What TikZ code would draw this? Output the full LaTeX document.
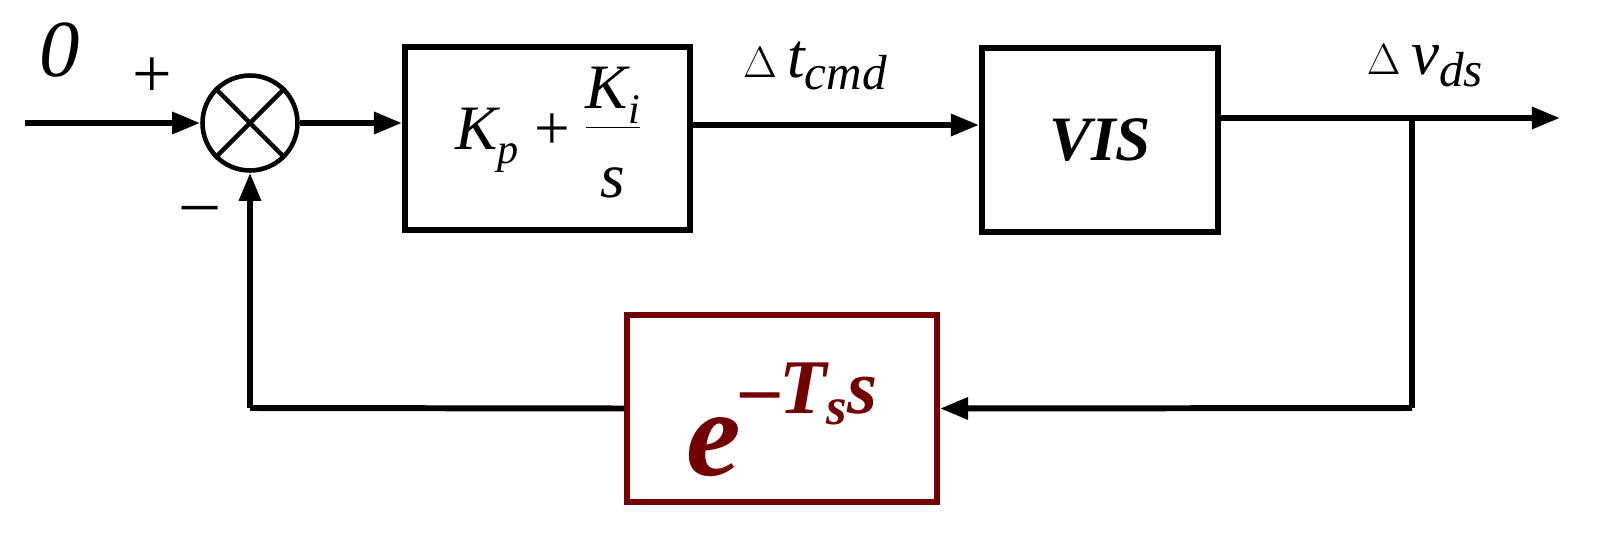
\documentclass[tikz,border=0pt]{standalone}
\usepackage{fontspec}
\setmainfont{Liberation Serif}
\usetikzlibrary{arrows.meta}
\definecolor{dred}{RGB}{115,0,0}
\begin{document}
\begin{tikzpicture}[x=0.02cm,y=-0.02cm,
  line/.style={line width=3.4pt},
  arr/.style={line/.try,-{Triangle[length=16pt,width=12pt]}},
  lbl/.style={font=\fontsize{36}{42}\selectfont}]
\useasboundingbox (0,0) rectangle (1620,544);
% sum junction
\node[draw,circle,line width=2.6pt,minimum size=1.9cm,inner sep=0pt] (sum) at (250,123) {};
\draw[line width=2.6pt] (sum.north west)--(sum.south east) (sum.north east)--(sum.south west);
\coordinate (in) at (25,123);
% blocks
\node[draw,line width=3.4pt,minimum width=5.7cm,minimum height=3.66cm] (pi) at (547.5,138.5) {};
\node[lbl] at (547.5,138.5) {\itshape K\raisebox{-0.5ex}{\fontsize{24}{28}\selectfont p}\ \upshape+\ \itshape$\begin{array}{@{}c@{}}\mbox{K\raisebox{-0.5ex}{\fontsize{24}{28}\selectfont i}}\\[-2pt]\hline\rule{0pt}{1.1em}\mbox{s}\end{array}$};
\node[draw,line width=3.4pt,minimum width=4.72cm,minimum height=3.68cm] (vis) at (1100,140) {};
\node[lbl] at (1100,140) {\bfseries\itshape VIS};
\node[draw=dred,line width=3.4pt,minimum width=6.2cm,minimum height=3.74cm] (del) at (782,408.5) {};
\node[text=dred,font=\fontsize{70}{76}\selectfont\bfseries\itshape] at (782,420) {e\raisebox{0.5em}{\fontsize{44}{48}\selectfont\textendash T\raisebox{-0.3ex}{\fontsize{30}{34}\selectfont s}s}};
\coordinate (out) at (1560,118);
\coordinate (tap) at (1412,118);
\coordinate (fb1) at (1412,408);
\coordinate (fb2) at (250,408);
% connectors
\draw[arr] (in) -- (sum.west);
\draw[arr] (sum.east) -- (pi.west|-sum.east);
\draw[arr] (pi.east|-0,125) -- (vis.west|-0,125);
\draw[arr] (vis.east|-out) -- (out);
\draw[line] (tap) -- (fb1);
\draw[arr] (fb1) -- (del.east);
\draw[line] (del.west) -- (fb2);
\draw[arr] (fb2) -- (sum.south);
% labels
\node[font=\fontsize{46}{50}\selectfont\itshape] at (60,50) {0};
\node[font=\fontsize{40}{44}\selectfont] at (152,78) {+};
\node[font=\fontsize{40}{44}\selectfont] at (200,215) {\textendash};
\node[lbl] at (815,66) {$\Delta$\,\itshape t\raisebox{-0.4ex}{\fontsize{28}{32}\selectfont cmd}};
\node[lbl] at (1425,66) {$\Delta$\,\itshape v\raisebox{-0.4ex}{\fontsize{28}{32}\selectfont ds}};
\end{tikzpicture}
\end{document}
